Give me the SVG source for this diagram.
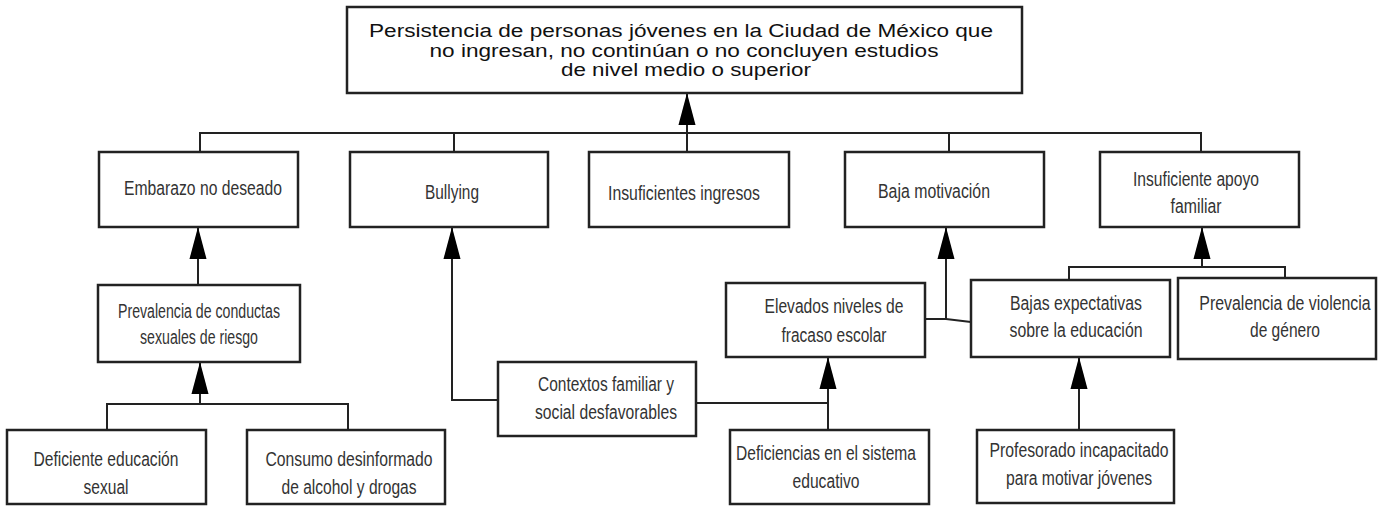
<svg xmlns="http://www.w3.org/2000/svg" width="1381" height="506" viewBox="0 0 1381 506">
<style>
.box{fill:#fff;stroke:#222;stroke-width:2.5}
.t{font-family:"Liberation Sans",Arial,sans-serif;font-size:20px;fill:#333;text-anchor:middle}
.title{font-family:"Liberation Sans",Arial,sans-serif;font-size:18px;fill:#111;text-anchor:middle}
.c{fill:none;stroke:#222;stroke-width:2}
</style>
<defs>
<marker id="ah" markerUnits="userSpaceOnUse" markerWidth="32" markerHeight="18" viewBox="0 -8 30 16" refX="30" refY="0" orient="auto">
<path d="M0,-8 L30,0 L0,8 z" fill="#000"/>
</marker>
</defs>
<rect width="1381" height="506" fill="#fff"/>
<g id="connectors">
<path class="c" d="M200,152 V133 H1201 V152"/>
<path class="c" d="M454,133 V152 M949,133 V152"/>
<path class="c" d="M687,152 V93" marker-end="url(#ah)"/>
<path class="c" d="M198,285 V227" marker-end="url(#ah)"/>
<path class="c" d="M107,430 V404 H348 V430"/>
<path class="c" d="M200,404 V362" marker-end="url(#ah)"/>
<path class="c" d="M498,400 H452 V227" marker-end="url(#ah)"/>
<path class="c" d="M696,403 H828"/>
<path class="c" d="M828,430 V357" marker-end="url(#ah)"/>
<path class="c" d="M925,319 H946 L971,322"/>
<path class="c" d="M946,320 V227" marker-end="url(#ah)"/>
<path class="c" d="M1069,280 V267 H1285 V278"/>
<path class="c" d="M1202,267 V227" marker-end="url(#ah)"/>
<path class="c" d="M1079,430 V357" marker-end="url(#ah)"/>
</g>
<g id="n-top"><rect class="box" x="347" y="7" width="675" height="86"/>
<text class="title" x="681" y="37" textLength="624" lengthAdjust="spacingAndGlyphs">Persistencia de personas jóvenes en la Ciudad de México que</text>
<text class="title" x="684" y="57" textLength="509" lengthAdjust="spacingAndGlyphs">no ingresan, no continúan o no concluyen estudios</text>
<text class="title" x="686" y="76" textLength="250" lengthAdjust="spacingAndGlyphs">de nivel medio o superior</text></g>
<g id="n-embarazo"><rect class="box" x="99" y="152" width="199" height="75"/><text class="t" x="203" y="195" textLength="158" lengthAdjust="spacingAndGlyphs">Embarazo no deseado</text></g>
<g id="n-bullying"><rect class="box" x="350" y="152" width="198" height="75"/><text class="t" x="452" y="199" textLength="54" lengthAdjust="spacingAndGlyphs">Bullying</text></g>
<g id="n-ingresos"><rect class="box" x="589" y="152" width="200" height="75"/><text class="t" x="684" y="200" textLength="152" lengthAdjust="spacingAndGlyphs">Insuficientes ingresos</text></g>
<g id="n-motivacion"><rect class="box" x="845" y="152" width="199" height="75"/><text class="t" x="934" y="198" textLength="112" lengthAdjust="spacingAndGlyphs">Baja motivación</text></g>
<g id="n-apoyo"><rect class="box" x="1100" y="152" width="199" height="75"/><text class="t" x="1196" y="186" textLength="126" lengthAdjust="spacingAndGlyphs">Insuficiente apoyo</text><text class="t" x="1196" y="213" textLength="51" lengthAdjust="spacingAndGlyphs">familiar</text></g>
<g id="n-conductas"><rect class="box" x="98" y="285" width="202" height="77"/><text class="t" x="199" y="318" textLength="162" lengthAdjust="spacingAndGlyphs">Prevalencia de conductas</text><text class="t" x="199" y="344" textLength="118" lengthAdjust="spacingAndGlyphs">sexuales de riesgo</text></g>
<g id="n-educsexual"><rect class="box" x="7" y="430" width="199" height="74"/><text class="t" x="106" y="466" textLength="145" lengthAdjust="spacingAndGlyphs">Deficiente educación</text><text class="t" x="106" y="494" textLength="45" lengthAdjust="spacingAndGlyphs">sexual</text></g>
<g id="n-consumo"><rect class="box" x="247" y="430" width="198" height="74"/><text class="t" x="349" y="466" textLength="167" lengthAdjust="spacingAndGlyphs">Consumo desinformado</text><text class="t" x="349" y="494" textLength="135" lengthAdjust="spacingAndGlyphs">de alcohol y drogas</text></g>
<g id="n-contextos"><rect class="box" x="498" y="362" width="198" height="74"/><text class="t" x="606" y="391" textLength="136" lengthAdjust="spacingAndGlyphs">Contextos familiar y</text><text class="t" x="606" y="419" textLength="142" lengthAdjust="spacingAndGlyphs">social desfavorables</text></g>
<g id="n-fracaso"><rect class="box" x="726" y="283" width="199" height="74"/><text class="t" x="834" y="313" textLength="139" lengthAdjust="spacingAndGlyphs">Elevados niveles de</text><text class="t" x="834" y="342" textLength="105" lengthAdjust="spacingAndGlyphs">fracaso escolar</text></g>
<g id="n-sistema"><rect class="box" x="730" y="430" width="199" height="74"/><text class="t" x="826" y="460" textLength="180" lengthAdjust="spacingAndGlyphs">Deficiencias en el sistema</text><text class="t" x="826" y="488" textLength="67" lengthAdjust="spacingAndGlyphs">educativo</text></g>
<g id="n-expectativas"><rect class="box" x="971" y="280" width="199" height="77"/><text class="t" x="1076" y="310" textLength="132" lengthAdjust="spacingAndGlyphs">Bajas expectativas</text><text class="t" x="1076" y="337" textLength="133" lengthAdjust="spacingAndGlyphs">sobre la educación</text></g>
<g id="n-violencia"><rect class="box" x="1178" y="278" width="198" height="81"/><text class="t" transform="translate(1285,310) scale(0.795,1)" x="0" y="0">Prevalencia de violencia</text><text class="t" x="1285" y="337" textLength="70" lengthAdjust="spacingAndGlyphs">de género</text></g>
<g id="n-profesorado"><rect class="box" x="977" y="430" width="197" height="73"/><text class="t" x="1079" y="457" textLength="179" lengthAdjust="spacingAndGlyphs">Profesorado incapacitado</text><text class="t" x="1079" y="485" textLength="146" lengthAdjust="spacingAndGlyphs">para motivar jóvenes</text></g>
</svg>
